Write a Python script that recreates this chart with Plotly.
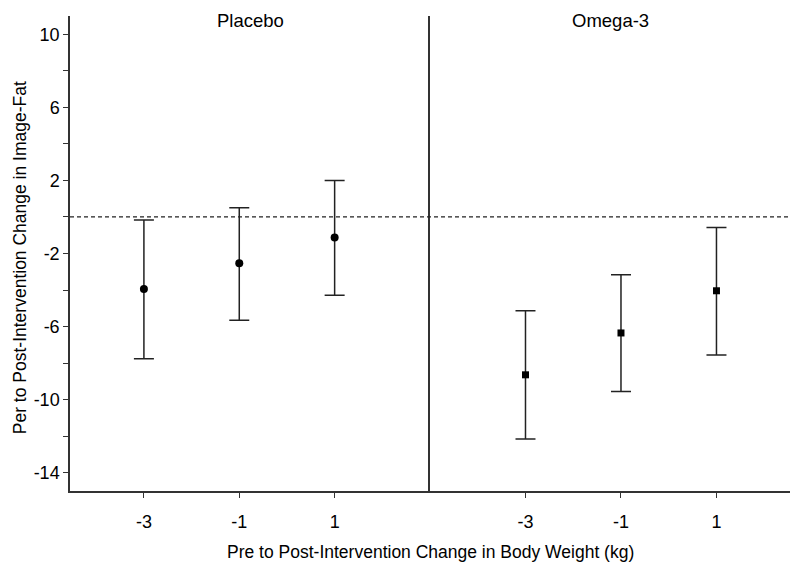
import plotly.graph_objects as go

weight_change = [-3, -1, 1]
weight_labels = ["-3", "-1", "1"]

placebo_mean = [-3.94, -2.54, -1.13]
placebo_upper = [-0.16, 0.51, 2.0]
placebo_lower = [-7.76, -5.65, -4.29]

omega_mean = [-8.64, -6.35, -4.04]
omega_upper = [-5.13, -3.16, -0.58]
omega_lower = [-12.16, -9.56, -7.56]

y_major = [10, 6, 2, -2, -6, -10, -14]
y_major_labels = ["10", "6", "2", "-2", "-6", "-10", "-14"]
y_minor = [8, 4, 0, -4, -8, -12]

FONT = "Liberation Sans, Arial, Helvetica, sans-serif"
INK = "#222222"
AXIS = "#333333"

def err(mean, upper, lower):
    return dict(
        type="data", symmetric=False,
        array=[u - m for u, m in zip(upper, mean)],
        arrayminus=[m - l for m, l in zip(mean, lower)],
        color=INK, thickness=1.5, width=10,
    )

fig = go.Figure()
fig.add_trace(go.Scatter(
    x=weight_change, y=placebo_mean, mode="markers",
    marker=dict(symbol="circle", size=8, color="black"),
    error_y=err(placebo_mean, placebo_upper, placebo_lower),
    xaxis="x", yaxis="y", showlegend=False,
))
fig.add_trace(go.Scatter(
    x=weight_change, y=omega_mean, mode="markers",
    marker=dict(symbol="square", size=7, color="black"),
    error_y=err(omega_mean, omega_upper, omega_lower),
    xaxis="x2", yaxis="y2", showlegend=False,
))

# reference line at zero across both panels
fig.add_shape(type="line", xref="paper", yref="y", x0=0, x1=1, y0=0, y1=0,
              line=dict(color=INK, width=1.3, dash="4px,3px"))

xcommon = dict(
    showline=True, linecolor=AXIS, linewidth=1.5, showgrid=False, zeroline=False,
    ticks="outside", ticklen=5, tickwidth=1.3, tickcolor=AXIS,
    tickvals=weight_change, ticktext=weight_labels,
    tickfont=dict(family=FONT, size=18, color="black"),
    ticklabelstandoff=9, automargin=False,
)

fig.update_layout(
    width=800, height=570,
    margin=dict(l=62, r=18, t=8, b=87, autoexpand=False),
    paper_bgcolor="white", plot_bgcolor="white",
    font=dict(family=FONT, size=17, color="black"),
    xaxis=dict(domain=[0, 0.5], range=[-4.55, 3.0], anchor="y", **xcommon),
    xaxis2=dict(domain=[0.5, 1], range=[-5.0, 2.54], anchor="y2", **xcommon),
    yaxis=dict(
        range=[-15, 11], anchor="x", showline=True, linecolor=AXIS, linewidth=1.5,
        showgrid=False, zeroline=False, automargin=False,
        ticks="outside", ticklen=5, tickwidth=1.3, tickcolor=AXIS,
        tickvals=y_major, ticktext=y_major_labels,
        tickfont=dict(family=FONT, size=18, color="black"),
        minor=dict(tickvals=y_minor, ticks="outside", ticklen=5, tickwidth=1.3,
                   tickcolor=AXIS, showgrid=False),
    ),
    yaxis2=dict(
        range=[-15, 11], anchor="x2", matches="y", showline=True, linecolor=AXIS,
        linewidth=1.5, showgrid=False, zeroline=False, ticks="",
        showticklabels=False, automargin=False,
    ),
    annotations=[
        dict(text="Placebo", xref="paper", yref="paper", x=0.25, y=1.0,
             xanchor="center", yanchor="top", yshift=8, showarrow=False,
             font=dict(family=FONT, size=18.5, color="black")),
        dict(text="Omega-3", xref="paper", yref="paper", x=0.75, y=1.0,
             xanchor="center", yanchor="top", yshift=8, showarrow=False,
             font=dict(family=FONT, size=18.5, color="black")),
        dict(text="Pre to Post-Intervention Change in Body Weight (kg)",
             xref="paper", yref="paper", x=0.5, y=0, yshift=-61,
             xanchor="center", yanchor="middle", showarrow=False,
             font=dict(family=FONT, size=17.5, color="black")),
        dict(text="Per to Post-Intervention Change in Image-Fat",
             xref="paper", yref="paper", x=0, xshift=-62, y=0.49,
             xanchor="left", yanchor="middle", textangle=-90, showarrow=False,
             font=dict(family=FONT, size=17.5, color="black")),
    ],
)

fig.write_html("out.html")
